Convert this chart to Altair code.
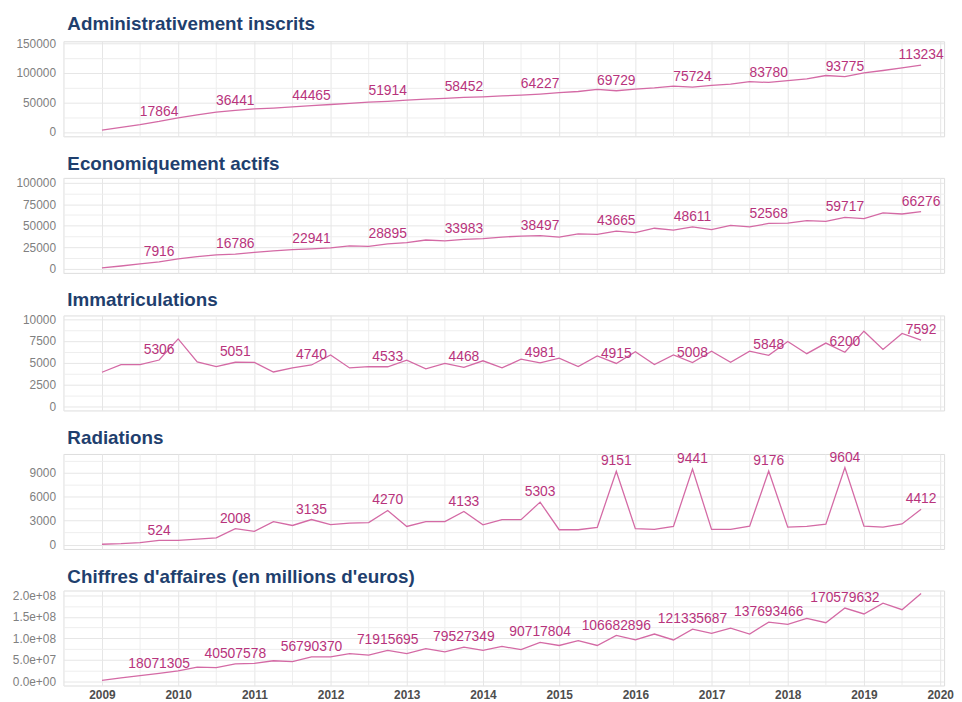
import altair as alt
import pandas as pd

# ---------------- data ----------------
years = list(range(2009, 2020))
quarter_pos = [y + q / 4 for y in years for q in range(4)]  # quarterly time index

inscrits = [3000, 8000, 12500, 17864,
            24000, 29000, 33500, 36441,
            39000, 40500, 42500, 44465,
            46500, 48500, 50500, 51914,
            54000, 55500, 57000, 58452,
            59500, 61000, 62500, 64227,
            66500, 68500, 72000, 69729,
            72500, 74500, 77500, 75724,
            79000, 81000, 85000, 83780,
            87000, 90000, 95500, 93775,
            100000, 104000, 108500, 113234]
inscrits_labels = ["17864", "36441", "44465", "51914", "58452", "64227",
                   "69729", "75724", "83780", "93775", "113234"]

actifs = [800, 3000, 5500, 7916,
          11400, 14000, 15900, 16786,
          18900, 20500, 22000, 22941,
          24200, 26500, 25800, 28895,
          30300, 33300, 32200, 33983,
          34800, 36700, 37900, 38497,
          36700, 40500, 39800, 43665,
          42000, 47000, 44700, 48611,
          45500, 50400, 48500, 52568,
          53000, 56000, 55000, 59717,
          58300, 65000, 63600, 66276]
actifs_labels = ["7916", "16786", "22941", "28895", "33983", "38497",
                 "43665", "48611", "52568", "59717", "66276"]

immat = [3900, 4780, 4780, 5306,
         7740, 5100, 4560, 5051,
         5040, 3930, 4400, 4740,
         5890, 4400, 4560, 4533,
         5300, 4300, 4930, 4468,
         5220, 4400, 5400, 4981,
         5520, 4560, 5780, 4915,
         6260, 4780, 5890, 5008,
         6330, 5040, 6330, 5848,
         7440, 6040, 7260, 6200,
         8630, 6520, 8370, 7592]
immat_labels = ["5306", "5051", "4740", "4533", "4468", "4981",
                "4915", "5008", "5848", "6200", "7592"]

radiations = [50, 120, 250, 524,
              520, 690, 850, 2008,
              1660, 2880, 2390, 3135,
              2510, 2680, 2760, 4270,
              2270, 2880, 2880, 4133,
              2470, 3120, 3120, 5303,
              1860, 1860, 2150, 9151,
              1990, 1900, 2270, 9441,
              1900, 1900, 2310, 9176,
              2190, 2270, 2550, 9604,
              2310, 2190, 2590, 4412]
radiations_labels = ["524", "2008", "3135", "4270", "4133", "5303",
                     "9151", "9441", "9176", "9604", "4412"]

ca = [2.0e6, 7.6e6, 12.9e6, 18071305,
      24.0e6, 32.6e6, 31.8e6, 40507578,
      41.7e6, 47.7e6, 45.5e6, 56790370,
      56.8e6, 64.4e6, 60.6e6, 71915695,
      64.4e6, 75.8e6, 68.2e6, 79527349,
      72.0e6, 81.0e6, 73.5e6, 90717804,
      83.3e6, 94.7e6, 83.3e6, 106682896,
      96.2e6, 110.0e6, 96.2e6, 121335687,
      111.4e6, 123.5e6, 110.0e6, 137693466,
      132.6e6, 146.2e6, 136.4e6, 170579632,
      156.8e6, 181.8e6, 166.7e6, 204.5e6]
ca_labels = ["18071305", "40507578", "56790370", "71915695", "79527349",
             "90717804", "106682896", "121335687", "137693466", "170579632", ""]

x_ticks = [2008.5 + 0.5 * k for k in range(24) if 2008.5 + 0.5 * k <= 2020]
x_tick_labels = {2009 + k: str(2009 + k) for k in range(12)}

panels = [
    dict(title="Administrativement inscrits", values=inscrits, labels=inscrits_labels,
         domain=[-7300, 153300],
         major=[0, 50000, 100000, 150000],
         major_labels=["0", "50000", "100000", "150000"],
         minor=[25000, 75000, 125000]),
    dict(title="Economiquement actifs", values=actifs, labels=actifs_labels,
         domain=[-5030, 105700],
         major=[0, 25000, 50000, 75000, 100000],
         major_labels=["0", "25000", "50000", "75000", "100000"],
         minor=[12500, 37500, 62500, 87500]),
    dict(title="Immatriculations", values=immat, labels=immat_labels,
         domain=[-497, 10444],
         major=[0, 2500, 5000, 7500, 10000],
         major_labels=["0", "2500", "5000", "7500", "10000"],
         minor=[1250, 3750, 6250, 8750]),
    dict(title="Radiations", values=radiations, labels=radiations_labels,
         domain=[-539, 11313],
         major=[0, 3000, 6000, 9000],
         major_labels=["0", "3000", "6000", "9000"],
         minor=[1500, 4500, 7500, 10500]),
    dict(title="Chiffres d'affaires (en millions d'euros)", values=ca, labels=ca_labels,
         domain=[-10.07e6, 211.4e6],
         major=[0, 5e7, 1e8, 1.5e8, 2e8],
         major_labels=["0.0e+00", "5.0e+07", "1.0e+08", "1.5e+08", "2.0e+08"],
         minor=[2.5e7, 7.5e7, 1.25e8, 1.75e8]),
]

LINE = "#D46AA5"
TEXT = "#B8337C"
TITLE = "#1F3F6E"
GRID = "#E6E6E6"
GRID_MINOR = "#EEEEEE"
FONT = "Liberation Sans"

W, H = 890, 96
X_DOMAIN = [2008.494, 2020.052]


def label_expr(values, labels):
    parts = []
    for v, s in zip(values, labels):
        parts.append(f"datum.value == {v!r} ? '{s}' : ")
    return "".join(parts) + "''"


def make_panel(p, show_x):
    n = len(p["values"])
    lab = [""] * n
    for k, s in enumerate(p["labels"]):
        lab[4 * k + 3] = s
    df = pd.DataFrame({"t": quarter_pos, "v": p["values"], "lab": lab})

    x_lab = label_expr(list(x_tick_labels.keys()), list(x_tick_labels.values())) if show_x else "''"
    xaxis = alt.Axis(
        values=x_ticks, labelExpr=x_lab, title=None, ticks=False, domain=False,
        labels=show_x, grid=True, labelOverlap=False,
        gridColor={"condition": {"test": "datum.value % 1 != 0", "value": GRID_MINOR}, "value": GRID},
        labelFont=FONT, labelFontSize=12, labelFontWeight="bold", labelColor="#4D4D4D",
        labelPadding=4, labelFlush=False, minExtent=0,
    )
    yvals = sorted(p["major"] + p["minor"])
    minor_list = "[" + ",".join(repr(m) for m in p["minor"]) + "]"
    yaxis = alt.Axis(
        values=yvals, labelExpr=label_expr(p["major"], p["major_labels"]),
        title=None, ticks=False, domain=False, grid=True, labelOverlap=False,
        gridColor={"condition": {"test": f"indexof({minor_list}, datum.value) >= 0", "value": GRID_MINOR},
                   "value": GRID},
        labelFont=FONT, labelFontSize=12, labelColor="#808080", labelPadding=8,
        minExtent=45, maxExtent=45, labelFlush=False,
    )
    x = alt.X("t:Q", scale=alt.Scale(domain=X_DOMAIN, nice=False, zero=False), axis=xaxis)
    y = alt.Y("v:Q", scale=alt.Scale(domain=p["domain"], nice=False, zero=False), axis=yaxis)

    base = alt.Chart(df).encode(x=x, y=y)
    line = base.mark_line(color=LINE, strokeWidth=1.3)
    text = base.transform_filter("datum.lab != ''").mark_text(
        color=TEXT, font=FONT, fontSize=14, baseline="middle", align="center", dy=-10
    ).encode(text="lab:N")
    return alt.layer(line, text).properties(
        width=W, height=H,
        title=alt.TitleParams(p["title"], anchor="start", frame="group", fontSize=19,
                              font=FONT, fontWeight="bold", color=TITLE, offset=-16,
                              baseline="bottom", dx=4),
    )


charts = [make_panel(p, i == len(panels) - 1) for i, p in enumerate(panels)]

chart = alt.vconcat(*charts, spacing=15).properties(
    padding={"left": 3, "top": 3, "right": 0, "bottom": 0}
).configure_view(stroke=None).configure(background="white")

chart.save("out.html", embed_options={"renderer": "svg", "actions": False})
